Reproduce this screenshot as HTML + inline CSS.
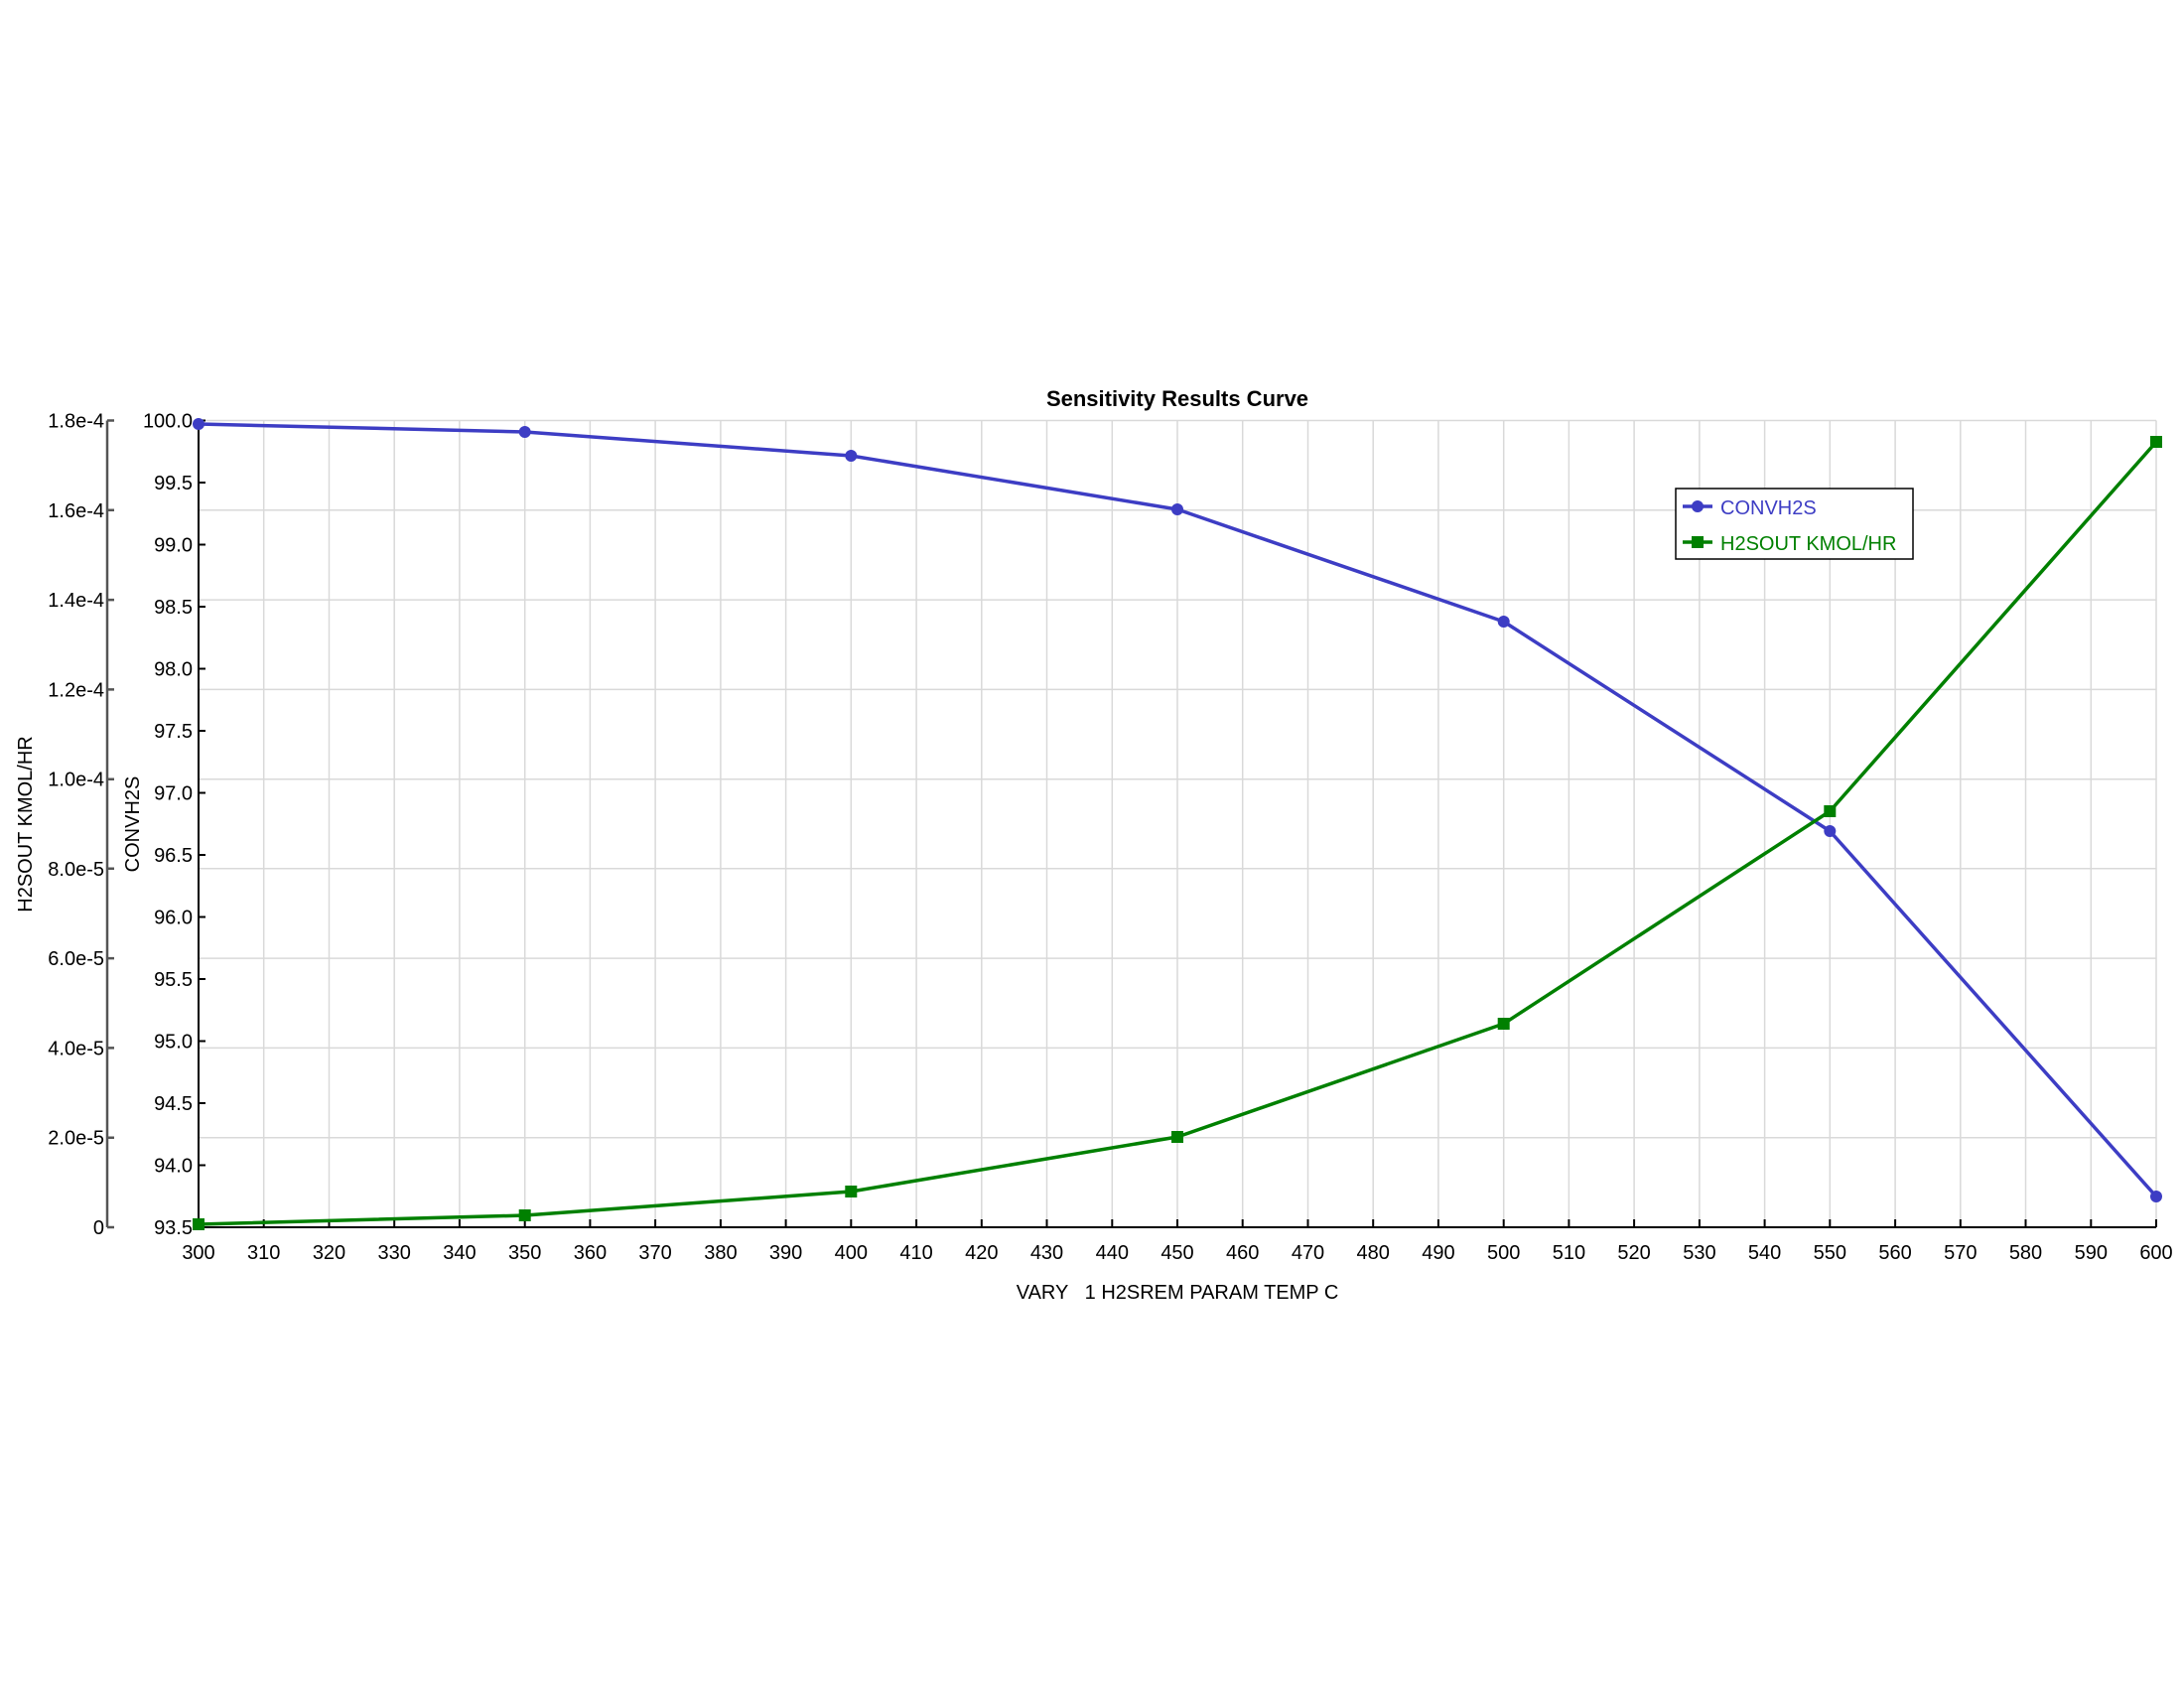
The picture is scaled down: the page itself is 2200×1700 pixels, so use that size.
<!DOCTYPE html>
<html><head><meta charset="utf-8"><style>
html,body{margin:0;padding:0;background:#fff;}
svg{display:block;}
text{font-family:"Liberation Sans","DejaVu Sans",sans-serif;}
</style></head><body>
<svg width="2200" height="1700" viewBox="0 0 2200 1700" xmlns="http://www.w3.org/2000/svg">
<rect width="2200" height="1700" fill="#fff"/>
<g stroke="#d9d9d9" stroke-width="1.5" fill="none">
<path d="M265.7 423.5V1236M331.5 423.5V1236M397.2 423.5V1236M462.9 423.5V1236M528.7 423.5V1236M594.4 423.5V1236M660.1 423.5V1236M725.9 423.5V1236M791.6 423.5V1236M857.3 423.5V1236M923.1 423.5V1236M988.8 423.5V1236M1054.5 423.5V1236M1120.3 423.5V1236M1186 423.5V1236M1251.7 423.5V1236M1317.5 423.5V1236M1383.2 423.5V1236M1448.9 423.5V1236M1514.7 423.5V1236M1580.4 423.5V1236M1646.1 423.5V1236M1711.9 423.5V1236M1777.6 423.5V1236M1843.3 423.5V1236M1909.1 423.5V1236M1974.8 423.5V1236M2040.5 423.5V1236M2106.3 423.5V1236M2172 423.5V1236"/>
<path d="M200 423.5H2172M200 513.8H2172M200 604.1H2172M200 694.4H2172M200 784.7H2172M200 874.8H2172M200 965.1H2172M200 1055.4H2172M200 1145.7H2172"/>
</g>
<g stroke="#000" stroke-width="2" fill="none">
<path d="M200 1236H2172"/>
<path d="M200 423.5V1236"/>
<path d="M200 1236v-8M265.7 1236v-8M331.5 1236v-8M397.2 1236v-8M462.9 1236v-8M528.7 1236v-8M594.4 1236v-8M660.1 1236v-8M725.9 1236v-8M791.6 1236v-8M857.3 1236v-8M923.1 1236v-8M988.8 1236v-8M1054.5 1236v-8M1120.3 1236v-8M1186 1236v-8M1251.7 1236v-8M1317.5 1236v-8M1383.2 1236v-8M1448.9 1236v-8M1514.7 1236v-8M1580.4 1236v-8M1646.1 1236v-8M1711.9 1236v-8M1777.6 1236v-8M1843.3 1236v-8M1909.1 1236v-8M1974.8 1236v-8M2040.5 1236v-8M2106.3 1236v-8M2172 1236v-8"/>
<path d="M200 423.5h7M200 486h7M200 548.5h7M200 611h7M200 673.5h7M200 736h7M200 798.5h7M200 861h7M200 923.5h7M200 986h7M200 1048.5h7M200 1111h7M200 1173.5h7M200 1236h7"/>
</g>
<g stroke="#555" stroke-width="2.5" fill="none">
<path d="M108 423.5V1236"/>
<path d="M108 423.5h7M108 513.8h7M108 604.1h7M108 694.4h7M108 784.7h7M108 874.8h7M108 965.1h7M108 1055.4h7M108 1145.7h7M108 1236h7"/>
</g>
<g font-size="20" text-anchor="middle" fill="#000">
<text x="200" y="1268">300</text><text x="265.7" y="1268">310</text><text x="331.5" y="1268">320</text><text x="397.2" y="1268">330</text><text x="462.9" y="1268">340</text><text x="528.7" y="1268">350</text><text x="594.4" y="1268">360</text><text x="660.1" y="1268">370</text><text x="725.9" y="1268">380</text><text x="791.6" y="1268">390</text><text x="857.3" y="1268">400</text><text x="923.1" y="1268">410</text><text x="988.8" y="1268">420</text><text x="1054.5" y="1268">430</text><text x="1120.3" y="1268">440</text><text x="1186" y="1268">450</text><text x="1251.7" y="1268">460</text><text x="1317.5" y="1268">470</text><text x="1383.2" y="1268">480</text><text x="1448.9" y="1268">490</text><text x="1514.7" y="1268">500</text><text x="1580.4" y="1268">510</text><text x="1646.1" y="1268">520</text><text x="1711.9" y="1268">530</text><text x="1777.6" y="1268">540</text><text x="1843.3" y="1268">550</text><text x="1909.1" y="1268">560</text><text x="1974.8" y="1268">570</text><text x="2040.5" y="1268">580</text><text x="2106.3" y="1268">590</text><text x="2172" y="1268">600</text>
</g>
<g font-size="20" text-anchor="end" fill="#000">
<text x="194" y="430.5">100.0</text><text x="194" y="493">99.5</text><text x="194" y="555.5">99.0</text><text x="194" y="618">98.5</text><text x="194" y="680.5">98.0</text><text x="194" y="743">97.5</text><text x="194" y="805.5">97.0</text><text x="194" y="868">96.5</text><text x="194" y="930.5">96.0</text><text x="194" y="993">95.5</text><text x="194" y="1055.5">95.0</text><text x="194" y="1118">94.5</text><text x="194" y="1180.5">94.0</text><text x="194" y="1243">93.5</text>
</g>
<g font-size="20" text-anchor="end" fill="#000">
<text x="105" y="430.5">1.8e-4</text><text x="105" y="520.8">1.6e-4</text><text x="105" y="611.1">1.4e-4</text><text x="105" y="701.4">1.2e-4</text><text x="105" y="791.7">1.0e-4</text><text x="105" y="881.8">8.0e-5</text><text x="105" y="972.1">6.0e-5</text><text x="105" y="1062.4">4.0e-5</text><text x="105" y="1152.7">2.0e-5</text><text x="105" y="1243">0</text>
</g>
<text font-size="20" text-anchor="middle" transform="translate(32,830) rotate(-90)">H2SOUT KMOL/HR</text>
<text font-size="20" text-anchor="middle" transform="translate(140,830) rotate(-90)">CONVH2S</text>
<text x="1186" y="409" font-size="22" font-weight="bold" text-anchor="middle">Sensitivity Results Curve</text>
<text x="1186" y="1308" font-size="20" text-anchor="middle" xml:space="preserve">VARY   1 H2SREM PARAM TEMP C</text>
<polyline points="200,427 528.7,435 857.3,459 1186,513 1514.7,626 1843.3,837 2172,1205" fill="none" stroke="#3d3dc4" stroke-width="3.5" stroke-linejoin="round"/>
<g fill="#3d3dc4"><circle cx="200" cy="427" r="6"/><circle cx="528.7" cy="435" r="6"/><circle cx="857.3" cy="459" r="6"/><circle cx="1186" cy="513" r="6"/><circle cx="1514.7" cy="626" r="6"/><circle cx="1843.3" cy="837" r="6"/><circle cx="2172" cy="1205" r="6"/></g>
<polyline points="200,1233 528.7,1224 857.3,1200 1186,1145 1514.7,1031 1843.3,817 2172,445" fill="none" stroke="#008000" stroke-width="3.5" stroke-linejoin="round"/>
<g fill="#008000"><rect x="194" y="1227" width="12" height="12"/><rect x="522.7" y="1218" width="12" height="12"/><rect x="851.3" y="1194" width="12" height="12"/><rect x="1180" y="1139" width="12" height="12"/><rect x="1508.7" y="1025" width="12" height="12"/><rect x="1837.3" y="811" width="12" height="12"/><rect x="2166" y="439" width="12" height="12"/></g>
<rect x="1688" y="492" width="239" height="71" fill="#fff" stroke="#000" stroke-width="1.5"/>
<line x1="1695" y1="510" x2="1725" y2="510" stroke="#3d3dc4" stroke-width="3.5"/>
<circle cx="1710" cy="510" r="6" fill="#3d3dc4"/>
<text x="1733" y="518" font-size="20" fill="#3d3dc4">CONVH2S</text>
<line x1="1695" y1="546" x2="1725" y2="546" stroke="#008000" stroke-width="3.5"/>
<rect x="1704" y="540" width="12" height="12" fill="#008000"/>
<text x="1733" y="554" font-size="20" fill="#008000">H2SOUT KMOL/HR</text>
</svg>
</body></html>
